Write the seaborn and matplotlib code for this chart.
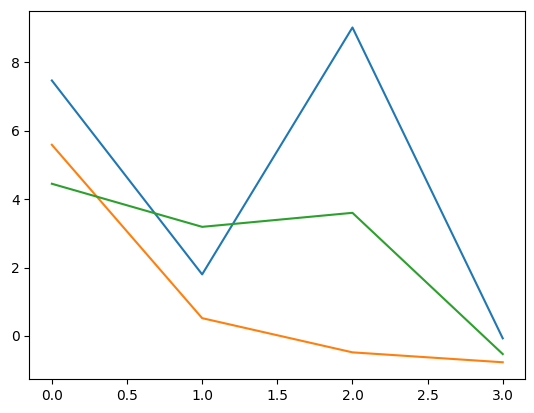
import matplotlib
matplotlib.use("Agg")
import matplotlib.pyplot as plt
import seaborn as sns
import pandas as pd

x = [0, 1, 2, 3]
series_a = [7.47, 1.80, 9.02, -0.07]
series_b = [5.59, 0.52, -0.48, -0.77]
series_c = [4.45, 3.19, 3.60, -0.53]

fig = plt.figure(figsize=(5.34, 4.13), dpi=100)
ax = fig.add_axes([0.0549, 0.0823, 0.9837 - 0.0549, 0.974 - 0.0823])
colors = ["#1f77b4", "#ff7f0e", "#2ca02c"]
for vals, c in zip([series_a, series_b, series_c], colors):
    df = pd.DataFrame({"x": x, "y": vals})
    sns.lineplot(data=df, x="x", y="y", ax=ax, color=c, linewidth=1.5)
ax.set_xlabel("")
ax.set_ylabel("")
fig.savefig("out.png", dpi=100)
